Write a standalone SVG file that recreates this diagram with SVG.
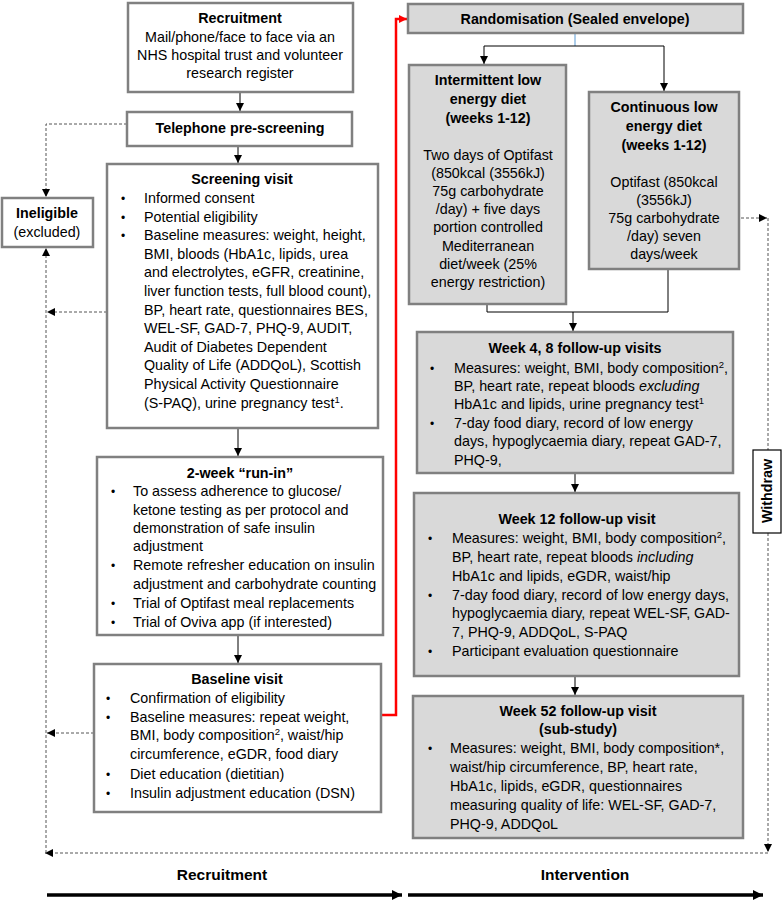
<svg xmlns="http://www.w3.org/2000/svg" width="784" height="906" viewBox="0 0 784 906">
<defs>
<style>
text{font-family:"Liberation Sans",Arial,sans-serif;font-size:14.3px;fill:#000}
.b{font-weight:bold}
.c{text-anchor:middle}
.w{fill:#fff;stroke:#808080;stroke-width:2.5}
.g{fill:#d9d9d9;stroke:#808080;stroke-width:2.5}
.ln{fill:none;stroke:#000;stroke-width:1}
.dash{fill:none;stroke:#555;stroke-width:1;stroke-dasharray:3,2}
.red{fill:none;stroke:#ff0000;stroke-width:2.5}
.thick{fill:none;stroke:#000;stroke-width:3.5}
.sup{font-size:9.5px}
.bl{font-size:12px}
</style>
<marker id="ah" viewBox="0 0 8 8" refX="8" refY="4" markerWidth="8" markerHeight="8" markerUnits="userSpaceOnUse" orient="auto"><path d="M0,0 L8,4 L0,8 z" fill="#000"/></marker>
<marker id="ahr" viewBox="0 0 8 8" refX="8" refY="4" markerWidth="8" markerHeight="8" markerUnits="userSpaceOnUse" orient="auto"><path d="M0,0 L8,4 L0,8 z" fill="#ff0000"/></marker>
<marker id="ahb" viewBox="0 0 10 10" refX="10" refY="5" markerWidth="10" markerHeight="10" markerUnits="userSpaceOnUse" orient="auto"><path d="M0,0 L10,5 L0,10 z" fill="#000"/></marker>
</defs>
<rect width="784" height="906" fill="#fff"/>

<g id="connectors">
<path class="ln" d="M240,92 V111" marker-end="url(#ah)"/>
<path class="ln" d="M238,146 V163" marker-end="url(#ah)"/>
<path class="ln" d="M238,428 V456" marker-end="url(#ah)"/>
<path class="ln" d="M238,635 V663" marker-end="url(#ah)"/>
<path fill="none" stroke="#5b9bd5" stroke-width="1" d="M575,34 V46"/>
<path class="ln" d="M575,46 H484 V64" marker-end="url(#ah)"/>
<path class="ln" d="M575,46 H664 V91" marker-end="url(#ah)"/>
<path class="ln" d="M487,305 V312 H668 V270"/>
<path class="ln" d="M573,312 V331" marker-end="url(#ah)"/>
<path class="ln" d="M575,473 V492" marker-end="url(#ah)"/>
<path class="ln" d="M575,676 V695" marker-end="url(#ah)"/>
<path class="red" d="M382,715 H396 V19 H407" marker-end="url(#ahr)"/>
<path class="dash" d="M127,124 H46 V197" marker-end="url(#ah)"/>
<path class="dash" d="M107,312 H47" marker-end="url(#ah)"/>
<path class="dash" d="M94,733 H47" marker-end="url(#ah)"/>
<path class="dash" d="M741,218 H767" marker-end="url(#ah)"/>
<path class="dash" d="M768,218 V450"/>
<path class="dash" d="M768,533 V852" marker-end="url(#ah)"/>
<path class="dash" d="M768,853 H45" marker-end="url(#ah)"/>
<path class="dash" d="M46,853 V248" marker-end="url(#ah)"/>
<path class="thick" d="M47,895 H402" marker-end="url(#ahb)"/>
<path class="thick" d="M408,895 H763" marker-end="url(#ahb)"/>
</g>

<g id="recruitment">
<rect class="w" x="128" y="3" width="225" height="89"/>
<text class="c b" x="240" y="23">Recruitment</text>
<text class="c" x="240" y="42">Mail/phone/face to face via an</text>
<text class="c" x="240" y="60">NHS hospital trust and volunteer</text>
<text class="c" x="240" y="78">research register</text>
</g>

<g id="telephone">
<rect class="w" x="127" y="112" width="225" height="34"/>
<text class="c b" x="240" y="133">Telephone pre-screening</text>
</g>

<g id="ineligible">
<rect class="w" x="2" y="198" width="91" height="49"/>
<text class="c b" x="47" y="218">Ineligible</text>
<text class="c" x="47" y="237">(excluded)</text>
</g>

<g id="screening">
<rect class="w" x="107" y="164" width="271" height="264"/>
<text class="c b" x="242" y="184">Screening visit</text>
<text class="bl" x="121" y="203">•</text><text x="144" y="203">Informed consent</text>
<text class="bl" x="121" y="222">•</text><text x="144" y="222">Potential eligibility</text>
<text class="bl" x="121" y="240">•</text><text x="144" y="240">Baseline measures: weight, height,</text>
<text x="144" y="259">BMI, bloods (HbA1c, lipids, urea</text>
<text x="144" y="277">and electrolytes, eGFR, creatinine,</text>
<text x="144" y="296">liver function tests, full blood count),</text>
<text x="144" y="315">BP, heart rate, questionnaires BES,</text>
<text x="144" y="333">WEL-SF, GAD-7, PHQ-9, AUDIT,</text>
<text x="144" y="352">Audit of Diabetes Dependent</text>
<text x="144" y="370">Quality of Life (ADDQoL), Scottish</text>
<text x="144" y="389">Physical Activity Questionnaire</text>
<text x="144" y="408">(S-PAQ), urine pregnancy test<tspan class="sup" dy="-5">1</tspan><tspan dy="5">.</tspan></text>
</g>

<g id="runin">
<rect class="w" x="97" y="457" width="286" height="178"/>
<text class="c b" x="240" y="478">2-week “run-in”</text>
<text class="bl" x="111" y="496">•</text><text x="133" y="496">To assess adherence to glucose/</text>
<text x="133" y="515">ketone testing as per protocol and</text>
<text x="133" y="533">demonstration of safe insulin</text>
<text x="133" y="551">adjustment</text>
<text class="bl" x="111" y="570">•</text><text x="133" y="570">Remote refresher education on insulin</text>
<text x="133" y="589">adjustment and carbohydrate counting</text>
<text class="bl" x="111" y="608">•</text><text x="133" y="608">Trial of Optifast meal replacements</text>
<text class="bl" x="111" y="627">•</text><text x="133" y="627">Trial of Oviva app (if interested)</text>
</g>

<g id="baseline">
<rect class="w" x="94" y="664" width="287" height="148"/>
<text class="c b" x="237" y="684">Baseline visit</text>
<text class="bl" x="106" y="703">•</text><text x="130" y="703">Confirmation of eligibility</text>
<text class="bl" x="106" y="722">•</text><text x="130" y="722">Baseline measures: repeat weight,</text>
<text x="130" y="740">BMI, body composition<tspan class="sup" dy="-5">2</tspan><tspan dy="5">, waist/hip</tspan></text>
<text x="130" y="759">circumference, eGDR, food diary</text>
<text class="bl" x="106" y="779">•</text><text x="130" y="779">Diet education (dietitian)</text>
<text class="bl" x="106" y="798">•</text><text x="130" y="798">Insulin adjustment education (DSN)</text>
</g>

<g id="randomisation">
<rect class="g" x="408" y="4" width="335" height="29"/>
<text class="c b" x="575" y="24">Randomisation (Sealed envelope)</text>
</g>

<g id="intermittent">
<rect class="g" x="409" y="65" width="157" height="239"/>
<text class="c b" x="488" y="85">Intermittent low</text>
<text class="c b" x="488" y="104">energy diet</text>
<text class="c b" x="488" y="123">(weeks 1-12)</text>
<text class="c" x="488" y="160">Two days of Optifast</text>
<text class="c" x="488" y="178">(850kcal (3556kJ)</text>
<text class="c" x="488" y="196">75g carbohydrate</text>
<text class="c" x="488" y="214">/day) + five days</text>
<text class="c" x="488" y="232">portion controlled</text>
<text class="c" x="488" y="251">Mediterranean</text>
<text class="c" x="488" y="269">diet/week (25%</text>
<text class="c" x="488" y="287">energy restriction)</text>
</g>

<g id="continuous">
<rect class="g" x="589" y="92" width="150" height="177"/>
<text class="c b" x="664" y="112">Continuous low</text>
<text class="c b" x="664" y="131">energy diet</text>
<text class="c b" x="664" y="150">(weeks 1-12)</text>
<text class="c" x="664" y="187">Optifast (850kcal</text>
<text class="c" x="664" y="205">(3556kJ)</text>
<text class="c" x="664" y="223">75g carbohydrate</text>
<text class="c" x="664" y="241">/day) seven</text>
<text class="c" x="664" y="259">days/week</text>
</g>

<g id="week4">
<rect class="g" x="417" y="332" width="316" height="141"/>
<text class="c b" x="575" y="353">Week 4, 8 follow-up visits</text>
<text class="bl" x="430" y="373">•</text><text x="454" y="373">Measures: weight, BMI, body composition<tspan class="sup" dy="-5">2</tspan><tspan dy="5">,</tspan></text>
<text x="454" y="391">BP, heart rate, repeat bloods <tspan font-style="italic">excluding</tspan></text>
<text x="454" y="409">HbA1c and lipids, urine pregnancy test<tspan class="sup" dy="-5">1</tspan></text>
<text class="bl" x="430" y="428">•</text><text x="454" y="428">7-day food diary, record of low energy</text>
<text x="454" y="446">days, hypoglycaemia diary, repeat GAD-7,</text>
<text x="454" y="465">PHQ-9,</text>
</g>

<g id="week12">
<rect class="g" x="414" y="493" width="325" height="183"/>
<text class="c b" x="577" y="524">Week 12 follow-up visit</text>
<text class="bl" x="428" y="543">•</text><text x="452" y="543">Measures: weight, BMI, body composition<tspan class="sup" dy="-5">2</tspan><tspan dy="5">,</tspan></text>
<text x="452" y="562">BP, heart rate, repeat bloods <tspan font-style="italic">including</tspan></text>
<text x="452" y="581">HbA1c and lipids, eGDR, waist/hip</text>
<text class="bl" x="428" y="600">•</text><text x="452" y="600">7-day food diary, record of low energy days,</text>
<text x="452" y="618">hypoglycaemia diary, repeat WEL-SF, GAD-</text>
<text x="452" y="637">7, PHQ-9, ADDQoL, S-PAQ</text>
<text class="bl" x="428" y="656">•</text><text x="452" y="656">Participant evaluation questionnaire</text>
</g>

<g id="week52">
<rect class="g" x="413" y="696" width="330" height="142"/>
<text class="c b" x="578" y="716">Week 52 follow-up visit</text>
<text class="c b" x="578" y="734">(sub-study)</text>
<text class="bl" x="428" y="753">•</text><text x="450" y="753">Measures: weight, BMI, body composition*,</text>
<text x="450" y="772">waist/hip circumference, BP, heart rate,</text>
<text x="450" y="791">HbA1c, lipids, eGDR, questionnaires</text>
<text x="450" y="810">measuring quality of life: WEL-SF, GAD-7,</text>
<text x="450" y="829">PHQ-9, ADDQoL</text>
</g>

<g id="withdraw">
<rect x="753" y="450" width="28" height="83" fill="#fff" stroke="#000" stroke-width="1.2"/>
<text class="c b" transform="translate(772,491) rotate(-90)" x="0" y="0">Withdraw</text>
</g>

<g id="phase-labels">
<text class="c b" x="222" y="880" style="font-size:15.5px">Recruitment</text>
<text class="c b" x="585" y="880" style="font-size:15.5px">Intervention</text>
</g>
</svg>
